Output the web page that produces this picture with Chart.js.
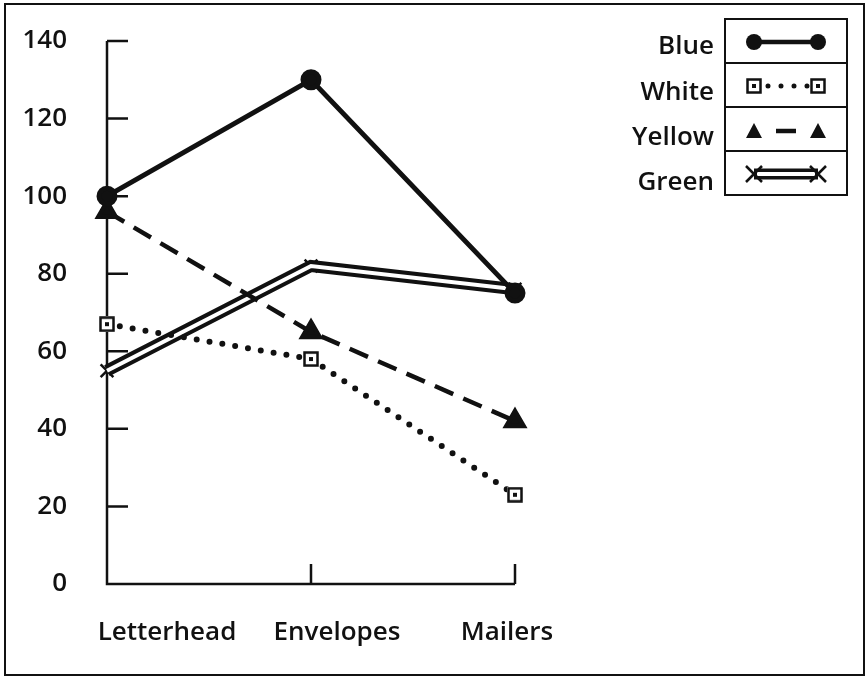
<!DOCTYPE html>
<html>
<head>
<meta charset="utf-8">
<script src="https://cdn.jsdelivr.net/npm/chart.js@4/dist/chart.umd.min.js"></script>
<style>
    html, body { margin: 0; padding: 0; background: #fff; }
    canvas { display: block; }
</style>
</head>
<body>
<canvas id="chart" width="868" height="678"></canvas>
<script>
    // chart data
    const categories = ['Letterhead', 'Envelopes', 'Mailers'];
    const blueValues = [100, 130, 75];
    const whiteValues = [67, 58, 23];
    const yellowValues = [96, 65, 42];
    const greenValues = [55, 82, 76];
    const yTicks = [0, 20, 40, 60, 80, 100, 120, 140];
    const legendNames = ['Blue', 'White', 'Yellow', 'Green'];

    const INK = '#111';
    const FONT = "'Open Sans', 'DejaVu Sans', sans-serif";
    const FONT_SIZE = 26;
    const FONT_WEIGHT = 600;

    // hollow square with a little dot inside, used for "White"
    function squareMarker() {
        const c = document.createElement('canvas');
        c.width = 16; c.height = 16;
        const g = c.getContext('2d');
        g.fillStyle = '#fff';
        g.fillRect(0, 0, 16, 16);
        g.strokeStyle = INK;
        g.lineWidth = 2.5;
        g.strokeRect(1.5, 1.5, 13, 13);
        g.fillStyle = INK;
        g.fillRect(6, 6, 4, 4);
        return c;
    }
    const sqImg = squareMarker();

    // axes with inward ticks, category names, and the outer frame
    const axisMarks = {
        id: 'axisMarks',
        beforeDatasetsDraw(chart) {
            const ctx = chart.ctx;
            const x = chart.scales.x, y = chart.scales.y;
            const a = chart.chartArea;
            ctx.save();
            ctx.strokeStyle = INK;
            ctx.lineWidth = 2.5;
            ctx.beginPath();
            ctx.moveTo(a.left, a.top);
            ctx.lineTo(a.left, a.bottom);
            ctx.lineTo(a.right, a.bottom);
            yTicks.forEach(v => {
                const py = y.getPixelForValue(v);
                ctx.moveTo(a.left, py);
                ctx.lineTo(a.left + 21, py);
            });
            categories.forEach((c, i) => {
                const px = x.getPixelForValue(i);
                ctx.moveTo(px, a.bottom);
                ctx.lineTo(px, a.bottom - 20);
            });
            ctx.stroke();

            // category names sit on their own even spacing, not centred on ticks
            ctx.fillStyle = INK;
            ctx.font = FONT_WEIGHT + ' ' + FONT_SIZE + 'px ' + FONT;
            ctx.textAlign = 'center';
            ctx.textBaseline = 'middle';
            categories.forEach((c, i) => ctx.fillText(c, a.left + 60 + i * 170, a.bottom + 49));

            // frame
            ctx.lineWidth = 2;
            ctx.strokeRect(5, 4, 859, 671);
            ctx.restore();
        }
    };

    // boxed legend on the right
    const boxLegend = {
        id: 'boxLegend',
        afterDraw(chart) {
            const ctx = chart.ctx;
            const bx = 725, by = 19, bw = 122, rh = 44;
            ctx.save();
            ctx.strokeStyle = INK;
            ctx.lineWidth = 2;
            ctx.strokeRect(bx, by, bw, rh * 4);
            for (let i = 1; i < 4; i++) {
                ctx.beginPath();
                ctx.moveTo(bx, by + rh * i);
                ctx.lineTo(bx + bw, by + rh * i);
                ctx.stroke();
            }
            ctx.fillStyle = INK;
            ctx.font = FONT_WEIGHT + ' ' + FONT_SIZE + 'px ' + FONT;
            ctx.textAlign = 'right';
            ctx.textBaseline = 'middle';
            legendNames.forEach((n, i) => ctx.fillText(n, bx - 11, 47 + i * 45.3));

            const x1 = bx + 29, x2 = bx + 93;
            let cy = by + rh / 2 + 1;
            // Blue
            ctx.lineWidth = 4.5;
            ctx.beginPath(); ctx.moveTo(x1, cy); ctx.lineTo(x2, cy); ctx.stroke();
            [x1, x2].forEach(px => { ctx.beginPath(); ctx.arc(px, cy, 8, 0, Math.PI * 2); ctx.fill(); });
            // White
            cy += rh;
            ctx.lineWidth = 5; ctx.lineCap = 'round';
            ctx.setLineDash([0, 13]);
            ctx.beginPath(); ctx.moveTo(x1 + 14, cy); ctx.lineTo(x2 - 8, cy); ctx.stroke();
            ctx.setLineDash([]); ctx.lineCap = 'butt';
            [x1, x2].forEach(px => ctx.drawImage(sqImg, px - 8, cy - 8));
            // Yellow
            cy += rh + 1;
            ctx.lineWidth = 4.5;
            ctx.beginPath(); ctx.moveTo(x1 + 22, cy); ctx.lineTo(x2 - 22, cy); ctx.stroke();
            [x1, x2].forEach(px => {
                ctx.beginPath(); ctx.moveTo(px, cy - 8); ctx.lineTo(px + 8, cy + 7); ctx.lineTo(px - 8, cy + 7); ctx.closePath(); ctx.fill();
            });
            // Green
            cy += rh - 1;
            ctx.lineWidth = 11;
            ctx.beginPath(); ctx.moveTo(x1, cy); ctx.lineTo(x2, cy); ctx.stroke();
            ctx.strokeStyle = '#fff'; ctx.lineWidth = 4;
            ctx.beginPath(); ctx.moveTo(x1 + 3, cy); ctx.lineTo(x2 - 3, cy); ctx.stroke();
            ctx.strokeStyle = INK; ctx.lineWidth = 2.5;
            [x1, x2].forEach(px => {
                ctx.beginPath();
                ctx.moveTo(px - 8, cy - 8); ctx.lineTo(px + 8, cy + 8);
                ctx.moveTo(px + 8, cy - 8); ctx.lineTo(px - 8, cy + 8);
                ctx.stroke();
            });
            ctx.restore();
        }
    };

    const ctx = document.getElementById('chart').getContext('2d');
    new Chart(ctx, {
        type: 'line',
        data: {
            labels: categories,
            datasets: [
                {
                    label: 'Blue', data: blueValues, order: 0,
                    borderColor: INK, borderWidth: 5,
                    pointStyle: 'circle', pointRadius: 8,
                    pointBackgroundColor: INK, pointBorderColor: INK, tension: 0
                },
                {
                    label: 'Yellow', data: yellowValues, order: 1,
                    borderColor: INK, borderWidth: 4.5, borderDash: [20, 11],
                    pointStyle: 'triangle', pointRadius: 10,
                    pointBackgroundColor: INK, pointBorderColor: INK, tension: 0
                },
                {
                    label: 'White', data: whiteValues, order: 2,
                    borderColor: INK, borderWidth: 6, borderDash: [0, 13], borderCapStyle: 'round',
                    pointStyle: sqImg, pointRadius: 8, tension: 0
                },
                {
                    label: 'Green inner', data: greenValues, order: 3,
                    borderColor: '#fff', borderWidth: 4, pointRadius: 0, tension: 0
                },
                {
                    label: 'Green', data: greenValues, order: 4,
                    borderColor: INK, borderWidth: 12,
                    pointStyle: 'crossRot', pointRadius: 9, pointBorderWidth: 2.5,
                    pointBorderColor: INK, tension: 0
                }
            ]
        },
        options: {
            responsive: false,
            animation: false,
            events: [],
            layout: { padding: { left: 0, right: 353, top: 41, bottom: 0 } },
            plugins: { legend: { display: false }, tooltip: { enabled: false } },
            scales: {
                x: {
                    offset: false,
                    grid: { display: false, drawTicks: false },
                    border: { display: false },
                    ticks: { display: false },
                    afterFit(s) { s.height = 94; s.paddingLeft = 0; s.paddingRight = 0; }
                },
                y: {
                    min: 0, max: 140,
                    grid: { display: false, drawTicks: false },
                    border: { display: false },
                    ticks: {
                        stepSize: 20, color: INK, padding: 40,
                        font: { family: FONT, size: FONT_SIZE, weight: FONT_WEIGHT }
                    },
                    afterFit(s) { s.width = 107; s.paddingTop = 0; s.paddingBottom = 0; }
                }
            }
        },
        plugins: [axisMarks, boxLegend]
    });
</script>
</body>
</html>
